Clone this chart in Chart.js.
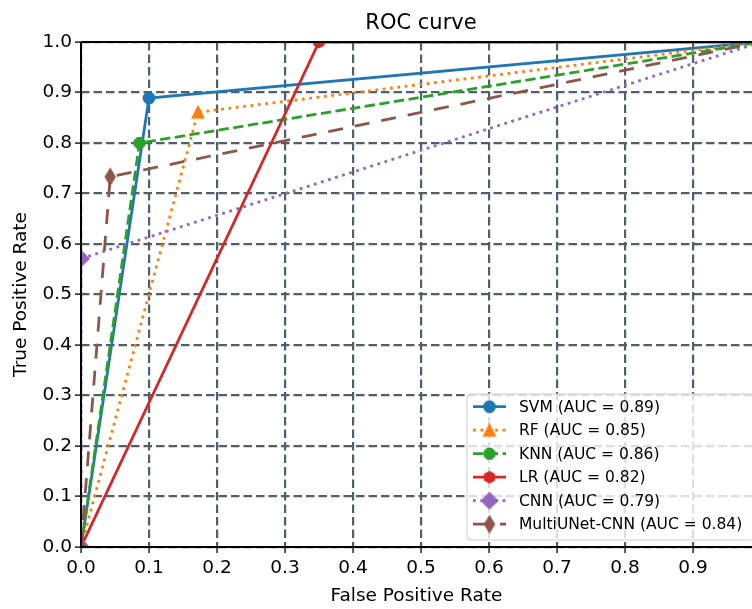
<!DOCTYPE html>
<html>
<head>
<meta charset="utf-8">
<script src="https://cdn.jsdelivr.net/npm/chart.js@4.4.0/dist/chart.umd.min.js"></script>
<style>
    html, body { margin: 0; padding: 0; background: #fff; }
    #wrap { width: 752px; height: 609px; }
</style>
</head>
<body>
<div id="wrap"><canvas id="rocCanvas" width="752" height="609"></canvas></div>
<script>
// model names and AUC values shown in the legend
const modelNames = ["SVM", "RF", "KNN", "LR", "CNN", "MultiUNet-CNN"];
const aucLabels = ["0.89", "0.85", "0.86", "0.82", "0.79", "0.84"];

// ROC points per model (false positive rate / true positive rate)
const fprSVM = [0, 0.1, 1];
const tprSVM = [0, 0.889, 1];
const fprRF = [0, 0.172, 1];
const tprRF = [0, 0.861, 1];
const fprKNN = [0, 0.086, 1];
const tprKNN = [0, 0.8, 1];
const fprLR = [0, 0.35, 1];
const tprLR = [0, 1, 1];
const fprCNN = [0, 0, 1];
const tprCNN = [0, 0.571, 1];
const fprMulti = [0, 0.043, 1];
const tprMulti = [0, 0.733, 1];

const xTickValues = [0, 0.1, 0.2, 0.3, 0.4, 0.5, 0.6, 0.7, 0.8, 0.9];
const yTickValues = [0, 0.1, 0.2, 0.3, 0.4, 0.5, 0.6, 0.7, 0.8, 0.9, 1.0];

const fpr = [fprSVM, fprRF, fprKNN, fprLR, fprCNN, fprMulti];
const tpr = [tprSVM, tprRF, tprKNN, tprLR, tprCNN, tprMulti];
const colors = ["#1f77b4", "#ff7f0e", "#2ca02c", "#d62728", "#9467bd", "#8c564b"];
const dashes = [[], [2.8, 4.6], [10.3, 4.5], [], [2.8, 4.6], [15, 12]];
const shapes = ["circle", "triangle", "octagon", "hexagon", "diamond", "thindiamond"];

const FONT = "'DejaVu Sans', sans-serif";

// draws a matplotlib-like marker into a small canvas
function makeMarker(shape, color) {
    const size = 24;
    const c = document.createElement("canvas");
    c.width = size;
    c.height = size;
    const ctx = c.getContext("2d");
    const m = size / 2;
    ctx.fillStyle = color;
    ctx.strokeStyle = color;
    ctx.lineWidth = 1.8;
    ctx.lineJoin = "miter";
    ctx.beginPath();
    if (shape === "circle") {
        ctx.arc(m, m, 5.5, 0, Math.PI * 2);
    } else if (shape === "triangle") {
        ctx.moveTo(m, m - 5.5);
        ctx.lineTo(m + 5.5, m + 5.5);
        ctx.lineTo(m - 5.5, m + 5.5);
        ctx.closePath();
    } else if (shape === "octagon" || shape === "hexagon") {
        const n = shape === "octagon" ? 8 : 6;
        const rot = shape === "octagon" ? Math.PI / 8 : 0;
        for (let i = 0; i < n; i++) {
            const a = rot + i * 2 * Math.PI / n;
            const px = m + 5.5 * Math.sin(a);
            const py = m - 5.5 * Math.cos(a);
            if (i === 0) ctx.moveTo(px, py); else ctx.lineTo(px, py);
        }
        ctx.closePath();
    } else {
        const hw = shape === "diamond" ? 7.8 : 4.7;
        const hh = 7.8;
        ctx.moveTo(m, m - hh);
        ctx.lineTo(m + hw, m);
        ctx.lineTo(m, m + hh);
        ctx.lineTo(m - hw, m);
        ctx.closePath();
    }
    ctx.fill();
    ctx.stroke();
    return c;
}

const datasets = modelNames.map((name, i) => ({
    label: name + " (AUC = " + aucLabels[i] + ")",
    data: fpr[i].map((x, j) => ({ x: x, y: tpr[i][j] })),
    showLine: true,
    borderColor: colors[i],
    backgroundColor: colors[i],
    borderWidth: 2.8,
    borderDash: dashes[i],
    pointStyle: makeMarker(shapes[i], colors[i]),
    pointRadius: 6,
    tension: 0,
    order: modelNames.length - i
}));

// spines, title and an in-plot legend like matplotlib
const framePlugin = {
    id: "frame",
    afterDatasetsDraw(chart) {
        const ctx = chart.ctx;
        const area = chart.chartArea;
        const xs = chart.scales.x;
        ctx.save();
        ctx.strokeStyle = "#000";
        ctx.lineWidth = 2;
        ctx.beginPath();
        ctx.moveTo(area.left, area.top);
        ctx.lineTo(area.right, area.top);
        ctx.moveTo(area.left, area.top);
        ctx.lineTo(area.left, area.bottom);
        ctx.lineTo(area.right, area.bottom);
        ctx.stroke();

        // title centred over the full axes (right edge lies off canvas)
        const fullRight = xs.getPixelForValue(1);
        ctx.fillStyle = "#000";
        ctx.font = "21px " + FONT;
        ctx.textAlign = "center";
        ctx.textBaseline = "alphabetic";
        ctx.fillText("ROC curve", (area.left + fullRight) / 2, 29);

        // legend box in the lower right corner
        const boxRight = fullRight - 7;
        const boxBottom = area.bottom - 7;
        const boxLeft = 467;
        const boxTop = 394;
        ctx.beginPath();
        ctx.roundRect(boxLeft, boxTop, boxRight - boxLeft, boxBottom - boxTop, 4);
        ctx.fillStyle = "rgba(255,255,255,0.8)";
        ctx.fill();
        ctx.strokeStyle = "#cccccc";
        ctx.lineWidth = 1;
        ctx.stroke();

        ctx.font = "15.5px " + FONT;
        ctx.textAlign = "left";
        ctx.textBaseline = "middle";
        chart.data.datasets.forEach((ds, i) => {
            const cy = 406.7 + i * 23.5;
            ctx.strokeStyle = ds.borderColor;
            ctx.lineWidth = ds.borderWidth;
            ctx.setLineDash(ds.borderDash);
            ctx.lineCap = "butt";
            ctx.beginPath();
            ctx.moveTo(473, cy);
            ctx.lineTo(506, cy);
            ctx.stroke();
            ctx.setLineDash([]);
            const mk = ds.pointStyle;
            ctx.drawImage(mk, 489.5 - mk.width / 2, cy - mk.height / 2);
            ctx.fillStyle = "#000";
            ctx.fillText(ds.label, 519, cy + 1);
        });
        ctx.restore();
    }
};

const gridColor = "#505f69";

new Chart(document.getElementById("rocCanvas"), {
    type: "scatter",
    data: { datasets: datasets },
    options: {
        responsive: false,
        animation: false,
        layout: { autoPadding: false, padding: { top: 42, right: 0, bottom: 0, left: 0 } },
        plugins: {
            legend: { display: false },
            title: { display: false },
            tooltip: { enabled: false }
        },
        scales: {
            x: {
                type: "linear",
                min: 0,
                max: (752 - 81) / 680,
                afterBuildTicks: scale => { scale.ticks = xTickValues.map(v => ({ value: v })); },
                afterFit: scale => {
                    scale.height = 62;
                    scale.paddingLeft = 0;
                    scale.paddingRight = 0;
                },
                ticks: {
                    autoSkip: false,
                    maxRotation: 0,
                    padding: 4,
                    color: "#000",
                    font: { family: FONT, size: 18.5 },
                    callback: v => v.toFixed(1)
                },
                grid: {
                    color: gridColor,
                    lineWidth: 2.2,
                    tickLength: 6,
                    tickColor: "#222",
                    tickWidth: 1.5,
                    tickBorderDash: []
                },
                border: { display: false, dash: [8.5, 4] },
                title: {
                    display: true,
                    text: "False Positive Rate",
                    color: "#000",
                    font: { family: FONT, size: 18.5 },
                    padding: { top: 0, bottom: 2 }
                }
            },
            y: {
                type: "linear",
                min: 0,
                max: 1,
                afterBuildTicks: scale => { scale.ticks = yTickValues.map(v => ({ value: v })); },
                afterFit: scale => {
                    scale.width = 81;
                    scale.paddingTop = 0;
                    scale.paddingBottom = 0;
                },
                ticks: {
                    autoSkip: false,
                    padding: 3,
                    color: "#000",
                    font: { family: FONT, size: 18.5 },
                    callback: v => v.toFixed(1)
                },
                grid: {
                    color: gridColor,
                    lineWidth: 2.2,
                    tickLength: 6,
                    tickColor: "#222",
                    tickWidth: 1.5,
                    tickBorderDash: []
                },
                border: { display: false, dash: [8.5, 4] },
                title: {
                    display: true,
                    text: "True Positive Rate",
                    color: "#000",
                    font: { family: FONT, size: 18.5 },
                    padding: { top: 10, bottom: 0 }
                }
            }
        }
    },
    plugins: [framePlugin]
});
</script>
</body>
</html>
